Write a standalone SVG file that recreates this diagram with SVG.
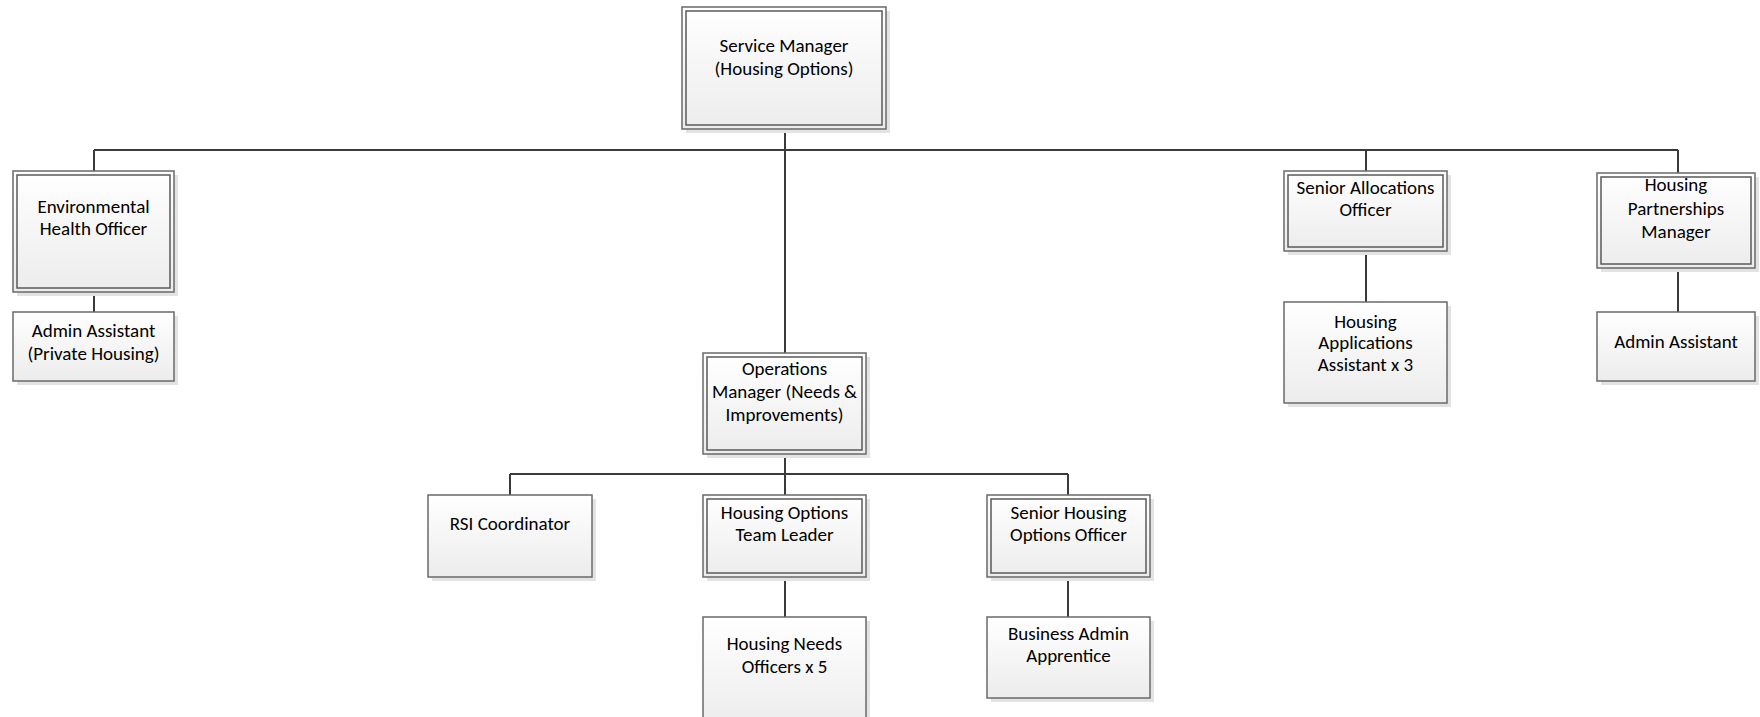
<svg xmlns="http://www.w3.org/2000/svg" width="1760" height="717" viewBox="0 0 1760 717">
<defs>
<linearGradient id="g" x1="0" y1="0" x2="0" y2="1">
<stop offset="0" stop-color="#ffffff"/>
<stop offset="1" stop-color="#ececec"/>
</linearGradient>
<style>
.sh{fill:#e3e3e3;}
.box{fill:url(#g);stroke:#6a6a6a;stroke-width:1.5;}
.in{fill:none;stroke:#5a5a5a;stroke-width:1.5;}
.t{font-family:Carlito,Calibri,Lato,"Liberation Sans",sans-serif;font-size:19px;fill:#000;text-anchor:middle;}
.c{stroke:#3a3a3a;stroke-width:2;fill:none;}
</style>
</defs>
<rect width="1760" height="717" fill="#ffffff"/>
<g id="connectors">
<path class="c" d="M94,150 H1678 M785,129 V353 M94,150 V171 M1366,150 V171 M1678,150 V173 M94,292 V312 M1366,251 V302 M1678,268 V312 M785,454 V495 M510,474 H1068 M510,474 V495 M1068,474 V495 M785,577 V617 M1068,577 V617"/>
</g>
<g id="sm">
<rect class="sh" x="686" y="11" width="204" height="122"/>
<rect class="box" x="682" y="7" width="204" height="122"/>
<rect class="in" x="686" y="11" width="196" height="114"/>
<text class="t" x="784" y="52">Service Manager</text>
<text class="t" x="784" y="75">(Housing Options)</text>
</g>
<g id="eho">
<rect class="sh" x="17" y="175" width="161" height="121"/>
<rect class="box" x="13" y="171" width="161" height="121"/>
<rect class="in" x="17" y="175" width="153" height="113"/>
<text class="t" x="93.5" y="213">Environmental</text>
<text class="t" x="93.5" y="235">Health Officer</text>
</g>
<g id="aa1">
<rect class="sh" x="17" y="316" width="161" height="69"/>
<rect class="box" x="13" y="312" width="161" height="69"/>
<text class="t" x="93.5" y="336.5">Admin Assistant</text>
<text class="t" x="93.5" y="359.5">(Private Housing)</text>
</g>
<g id="sao">
<rect class="sh" x="1288" y="175" width="163" height="80"/>
<rect class="box" x="1284" y="171" width="163" height="80"/>
<rect class="in" x="1288" y="175" width="155" height="72"/>
<text class="t" x="1365.5" y="194">Senior Allocations</text>
<text class="t" x="1365.5" y="216">Officer</text>
</g>
<g id="haa">
<rect class="sh" x="1288" y="306" width="163" height="101"/>
<rect class="box" x="1284" y="302" width="163" height="101"/>
<text class="t" x="1365.5" y="327.5">Housing</text>
<text class="t" x="1365.5" y="349">Applications</text>
<text class="t" x="1365.5" y="371">Assistant x 3</text>
</g>
<g id="hpm">
<rect class="sh" x="1601" y="177" width="158" height="95"/>
<rect class="box" x="1597" y="173" width="158" height="95"/>
<rect class="in" x="1601" y="177" width="150" height="87"/>
<text class="t" x="1676" y="191">Housing</text>
<text class="t" x="1676" y="214.5">Partnerships</text>
<text class="t" x="1676" y="238">Manager</text>
</g>
<g id="aa2">
<rect class="sh" x="1601" y="316" width="158" height="69"/>
<rect class="box" x="1597" y="312" width="158" height="69"/>
<text class="t" x="1676" y="348">Admin Assistant</text>
</g>
<g id="om">
<rect class="sh" x="707" y="357" width="163" height="101"/>
<rect class="box" x="703" y="353" width="163" height="101"/>
<rect class="in" x="707" y="357" width="155" height="93"/>
<text class="t" x="784.5" y="374.5">Operations</text>
<text class="t" x="784.5" y="397.5">Manager (Needs &amp;</text>
<text class="t" x="784.5" y="420.5">Improvements)</text>
</g>
<g id="rsi">
<rect class="sh" x="432" y="499" width="164" height="82"/>
<rect class="box" x="428" y="495" width="164" height="82"/>
<text class="t" x="510" y="530">RSI Coordinator</text>
</g>
<g id="hotl">
<rect class="sh" x="707" y="499" width="163" height="82"/>
<rect class="box" x="703" y="495" width="163" height="82"/>
<rect class="in" x="707" y="499" width="155" height="74"/>
<text class="t" x="784.5" y="518.5">Housing Options</text>
<text class="t" x="784.5" y="541">Team Leader</text>
</g>
<g id="hno">
<rect class="sh" x="707" y="621" width="163" height="110"/>
<rect class="box" x="703" y="617" width="163" height="110"/>
<text class="t" x="784.5" y="650">Housing Needs</text>
<text class="t" x="784.5" y="673">Officers x 5</text>
</g>
<g id="shoo">
<rect class="sh" x="991" y="499" width="163" height="82"/>
<rect class="box" x="987" y="495" width="163" height="82"/>
<rect class="in" x="991" y="499" width="155" height="74"/>
<text class="t" x="1068.5" y="518.5">Senior Housing</text>
<text class="t" x="1068.5" y="541">Options Officer</text>
</g>
<g id="baa">
<rect class="sh" x="991" y="621" width="163" height="81"/>
<rect class="box" x="987" y="617" width="163" height="81"/>
<text class="t" x="1068.5" y="640">Business Admin</text>
<text class="t" x="1068.5" y="662">Apprentice</text>
</g>
</svg>
